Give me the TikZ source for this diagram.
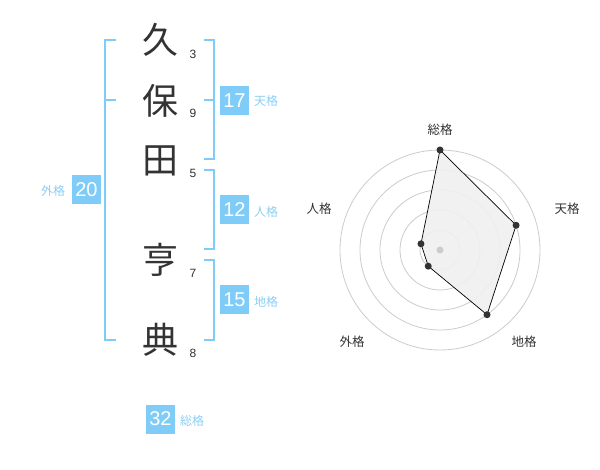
\documentclass[tikz,border=0pt]{standalone}
\usepackage{fontspec}
\setmainfont{Liberation Sans}
\newfontfamily\jp{Noto Sans CJK JP}
\definecolor{kblue}{RGB}{128,204,248}
\definecolor{klabel}{RGB}{140,207,245}
\definecolor{kdark}{RGB}{51,51,51}
\definecolor{kring}{RGB}{204,204,204}
\definecolor{kfill}{RGB}{240,240,240}
\tikzset{
  kanji/.style={font=\jp\fontsize{36}{36}\selectfont, text=kdark, inner sep=0pt},
  stroke/.style={font=\fontsize{12}{12}\selectfont, text=kdark, inner sep=0pt},
  numbox/.style={fill=kblue, text=white, minimum width=29pt, minimum height=29pt, inner sep=0pt, font=\fontsize{20}{20}\selectfont},
  kaku/.style={font=\jp\fontsize{12}{12}\selectfont, text=klabel, inner sep=0pt},
  radlabel/.style={font=\jp\fontsize{12.5}{12.5}\selectfont, text=kdark, inner sep=0pt},
  brk/.style={draw=kblue, line width=2pt},
  ring/.style={draw=kring, line width=0.8pt},
  dot/.style={circle, fill=kdark, inner sep=0pt, minimum size=7pt},
}
\begin{document}
\begin{tikzpicture}[x=1pt,y=-1pt]
\useasboundingbox (0,0) rectangle (600,470);
\fill[white] (0,0) rectangle (600,470);
% kanji
\node[kanji] (k1) at (160,40) {久};
\node[kanji] (k2) at (160,101) {保};
\node[kanji] (k3) at (160,161) {田};
\node[kanji] (k4) at (160,260) {亨};
\node[kanji] (k5) at (160,340) {典};
% strokes
\node[stroke] (s1) at (193,54) {3};
\node[stroke] (s2) at (193,113) {9};
\node[stroke] (s3) at (193,173) {5};
\node[stroke] (s4) at (193,273) {7};
\node[stroke] (s5) at (193,353) {8};
% brackets
\draw[brk] (116,40) -- (105,40) -- (105,340) -- (116,340);
\draw[brk] (105,100) -- (116,100);
\draw[brk] (204,40) -- (214,40) -- (214,159) -- (204,159);
\draw[brk] (204,100) -- (214,100);
\draw[brk] (204,170) -- (214,170) -- (214,249) -- (204,249);
\draw[brk] (204,260) -- (214,260) -- (214,340) -- (204,340);
% boxes
\node[numbox] (ten) at (234.5,100.5) {17};
\node[kaku] (tenl) at (266,101) {天格};
\node[numbox] (jin) at (234.5,210) {12};
\node[kaku] (jinl) at (266,212) {人格};
\node[numbox] (chi) at (234.5,300) {15};
\node[kaku] (chil) at (266,302) {地格};
\node[numbox] (gai) at (86.5,190) {20};
\node[kaku] (gail) at (53,191) {外格};
\node[numbox] (sou) at (160.5,419) {32};
\node[kaku] (soul) at (192,421) {総格};
% radar
\begin{scope}[shift={(440,250)}, yscale=-1]
  \foreach \r in {20,40,60,80,100} \draw[ring] (0,0) circle (\r);
  \coordinate (pS) at (90:100);
  \coordinate (pT) at (18:80);
  \coordinate (pC) at (-54:80);
  \coordinate (pG) at (-126:20);
  \coordinate (pJ) at (162:20);
  \filldraw[fill=kfill, fill opacity=0.9, draw=black, line width=0.7pt] (pS) -- (pT) -- (pC) -- (pG) -- (pJ) -- cycle;
  \node[circle, fill=kring, inner sep=0pt, minimum size=7pt] (ctr) at (0,0) {};
  \foreach \p in {pS,pT,pC,pG,pJ} \node[dot] (d\p) at (\p) {};
\end{scope}
\node[radlabel] (rS) at (440,130) {総格};
\node[radlabel] (rT) at (567,209) {天格};
\node[radlabel] (rC) at (524,342) {地格};
\node[radlabel] (rG) at (352,342) {外格};
\node[radlabel] (rJ) at (319,209) {人格};
\end{tikzpicture}
\end{document}
